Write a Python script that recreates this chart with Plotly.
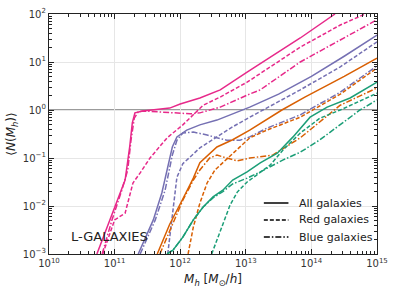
import numpy as np
import plotly.graph_objects as go

# colours (Dark2)
PINK, PURPLE, ORANGE, GREEN = "#e7298a", "#7570b3", "#d95f02", "#1b9e77"

# ---- data: log10(M_h) and log10(<N>) ----
pink_all_m = [10.73, 10.93, 11.08, 11.16, 11.23, 11.27, 11.31, 11.43, 11.84, 12.0, 12.30, 12.61, 13.02, 13.83, 14.36]
pink_all_n = [-3.0, -2.29, -1.77, -1.46, -0.77, -0.27, -0.06, -0.02, 0.04, 0.125, 0.25, 0.42, 0.79, 1.5, 2.0]
pink_red_m = [10.82, 11.0, 11.16, 11.28, 11.39, 11.54, 11.80, 12.04, 12.35, 12.61, 13.02, 13.83, 14.44, 14.82]
pink_red_n = [-3.0, -2.29, -2.15, -1.52, -1.31, -1.0, -0.58, -0.31, 0.10, 0.27, 0.58, 1.31, 1.77, 2.0]
pink_blue_m = [10.81, 10.96, 11.11, 11.20, 11.25, 11.30, 11.36, 11.43, 11.69, 11.92, 12.15, 12.30, 12.61, 13.02, 13.22, 13.83, 15.0]
pink_blue_n = [-3.0, -2.29, -1.67, -1.25, -0.63, -0.17, -0.04, -0.02, -0.04, -0.06, -0.08, -0.06, 0.06, 0.31, 0.42, 1.0, 1.88]

purple_all_m = [11.36, 11.59, 11.72, 11.80, 11.88, 11.95, 12.10, 12.30, 12.56, 13.06, 13.50, 14.0, 14.5, 15.0]
purple_all_n = [-3.0, -2.29, -1.73, -1.25, -0.77, -0.56, -0.42, -0.31, -0.21, 0.06, 0.33, 0.70, 1.12, 1.56]
purple_red_m = [11.81, 11.88, 11.95, 12.04, 12.30, 12.56, 12.80, 13.06, 13.83, 14.44, 15.0]
purple_red_n = [-3.0, -2.15, -1.40, -1.12, -0.79, -0.56, -0.35, -0.15, 0.42, 0.90, 1.42]
purple_blue_m = [11.39, 11.62, 11.77, 11.88, 11.95, 12.04, 12.20, 12.41, 12.56, 12.71, 12.91, 13.06, 13.32, 13.83, 14.44, 15.0]
purple_blue_n = [-3.0, -2.29, -1.67, -0.94, -0.63, -0.48, -0.46, -0.52, -0.58, -0.63, -0.63, -0.56, -0.38, -0.10, 0.37, 0.92]

orange_all_m = [11.65, 11.84, 12.03, 12.20, 12.30, 12.56, 12.80, 13.06, 13.55, 13.90, 14.5, 15.0]
orange_all_n = [-3.0, -2.38, -1.88, -1.42, -1.10, -0.77, -0.62, -0.42, 0.0, 0.27, 0.70, 1.08]
orange_red_m = [12.12, 12.20, 12.30, 12.41, 12.53, 12.80, 13.06, 13.32, 13.83, 14.44, 15.0]
orange_red_n = [-3.0, -2.44, -1.94, -1.52, -1.25, -0.90, -0.58, -0.42, -0.15, 0.33, 0.875]
orange_blue_m = [11.69, 11.88, 12.04, 12.20, 12.30, 12.45, 12.56, 12.71, 12.87, 13.06, 13.41, 13.83, 14.44, 15.0]
orange_blue_n = [-3.0, -2.38, -1.88, -1.46, -1.25, -1.0, -0.94, -1.0, -1.06, -1.0, -0.94, -0.58, 0.10, 0.46]

green_all_m = [11.80, 11.89, 12.04, 12.20, 12.35, 12.50, 12.65, 12.80, 13.02, 13.22, 13.48, 13.72, 13.98, 14.24, 14.59, 15.0]
green_all_n = [-3.0, -2.92, -2.65, -2.29, -2.02, -1.81, -1.67, -1.46, -1.29, -1.10, -0.90, -0.56, -0.15, 0.06, 0.25, 0.58]
green_red_m = [12.48, 12.58, 12.68, 12.76, 12.87, 13.02, 13.17, 13.37, 13.57, 13.83, 14.13, 14.44, 15.0]
green_red_n = [-3.0, -2.65, -2.29, -1.98, -1.71, -1.50, -1.35, -1.15, -0.83, -0.48, -0.17, 0.0, 0.35]
green_blue_m = [11.80, 11.89, 12.04, 12.20, 12.35, 12.50, 12.65, 12.80, 13.02, 13.22, 13.57, 13.83, 14.13, 14.44, 14.74, 15.0]
green_blue_n = [-3.0, -2.92, -2.65, -2.29, -2.02, -1.83, -1.70, -1.54, -1.42, -1.29, -1.04, -0.88, -0.62, -0.31, 0.0, 0.21]

x_tick_exp = [10, 11, 12, 13, 14, 15]
y_tick_exp = [-3, -2, -1, 0, 1, 2]
legend_labels = ["All galaxies", "Red galaxies", "Blue galaxies"]
legend_kinds = ["all", "red", "blue"]
annotation_text = "L-GALAXIES"

DASH = {"all": "solid", "red": "4px,2px", "blue": "6px,2px,1.5px,2px"}

series = [
    (pink_all_m, pink_all_n, PINK, "all"), (pink_red_m, pink_red_n, PINK, "red"), (pink_blue_m, pink_blue_n, PINK, "blue"),
    (purple_all_m, purple_all_n, PURPLE, "all"), (purple_red_m, purple_red_n, PURPLE, "red"), (purple_blue_m, purple_blue_n, PURPLE, "blue"),
    (orange_all_m, orange_all_n, ORANGE, "all"), (orange_red_m, orange_red_n, ORANGE, "red"), (orange_blue_m, orange_blue_n, ORANGE, "blue"),
    (green_all_m, green_all_n, GREEN, "all"), (green_red_m, green_red_n, GREEN, "red"), (green_blue_m, green_blue_n, GREEN, "blue"),
]

fig = go.Figure()
for m, n, c, kind in series:
    fig.add_trace(go.Scatter(x=10 ** np.array(m), y=10 ** np.array(n), mode="lines",
                             line=dict(color=c, width=1.5, dash=DASH[kind]),
                             showlegend=False, hoverinfo="skip"))

# horizontal reference line at <N> = 1
fig.add_shape(type="line", xref="paper", yref="y", x0=0, x1=1, y0=1, y1=1,
              line=dict(color="#7a7a7a", width=1.5), layer="below")

# legend (drawn as line samples + labels, bottom right inside the axes)
leg_rows_y = [0.2125, 0.1417, 0.0708]
for lab, kind, yy in zip(legend_labels, legend_kinds, leg_rows_y):
    fig.add_shape(type="line", xref="paper", yref="paper", x0=0.655, x1=0.73, y0=yy, y1=yy,
                  line=dict(color="black", width=1.5, dash=DASH[kind]))
    fig.add_annotation(text=lab, xref="paper", yref="paper", x=0.755, y=yy,
                       xanchor="left", yanchor="middle", showarrow=False,
                       font=dict(size=11, color="#222222"))

fig.add_annotation(text=annotation_text, xref="paper", yref="paper", x=0.062, y=0.075,
                   xanchor="left", yanchor="middle", showarrow=False,
                   font=dict(size=13, color="#222222"))

def sup(e):
    return "10<sup>" + (str(e) if e >= 0 else "\u2212" + str(-e)) + "</sup>"

def minor_vals(exps):
    return [k * 10.0 ** e for e in exps[:-1] for k in range(2, 10)]

axis_common = dict(type="log", showline=True, linecolor="#222222", linewidth=1.2, mirror="allticks",
                   ticks="inside", ticklen=5, tickcolor="#222222", tickwidth=1,
                   showgrid=True, gridcolor="#e6e6e6", gridwidth=1, zeroline=False,
                   automargin=False,
                   tickfont=dict(size=10, color="#333333"))

fig.update_xaxes(range=[10, 15], tickvals=[10 ** e for e in x_tick_exp],
                 ticktext=[sup(e) for e in x_tick_exp],
                 minor=dict(tickmode="array", tickvals=minor_vals(x_tick_exp), ticks="inside",
                            ticklen=3, tickcolor="#222222", showgrid=False),
                 title=dict(text="<i>M<sub>h</sub></i> [<i>M</i><sub>\u2299</sub>/<i>h</i>]",
                            font=dict(size=12, color="#222222"), standoff=6),
                 **axis_common)
fig.update_yaxes(range=[-3, 2], tickvals=[10 ** e for e in y_tick_exp],
                 ticktext=[sup(e) for e in y_tick_exp],
                 minor=dict(tickmode="array", tickvals=minor_vals(y_tick_exp), ticks="inside",
                            ticklen=3, tickcolor="#222222", showgrid=False),
                 title=dict(text="\u27e8<i>N</i>(<i>M<sub>h</sub></i>)\u27e9",
                            font=dict(size=12, color="#222222"), standoff=4),
                 **axis_common)

fig.update_layout(
    width=399, height=294,
    margin=dict(l=49, r=22, t=14, b=40),
    plot_bgcolor="white", paper_bgcolor="white",
    font=dict(family="DejaVu Sans", color="#222222"),
    showlegend=False,
)

fig.write_html("out.html", config={"displayModeBar": False},
               post_script="document.body.style.margin='0';document.body.style.overflow='hidden';")
